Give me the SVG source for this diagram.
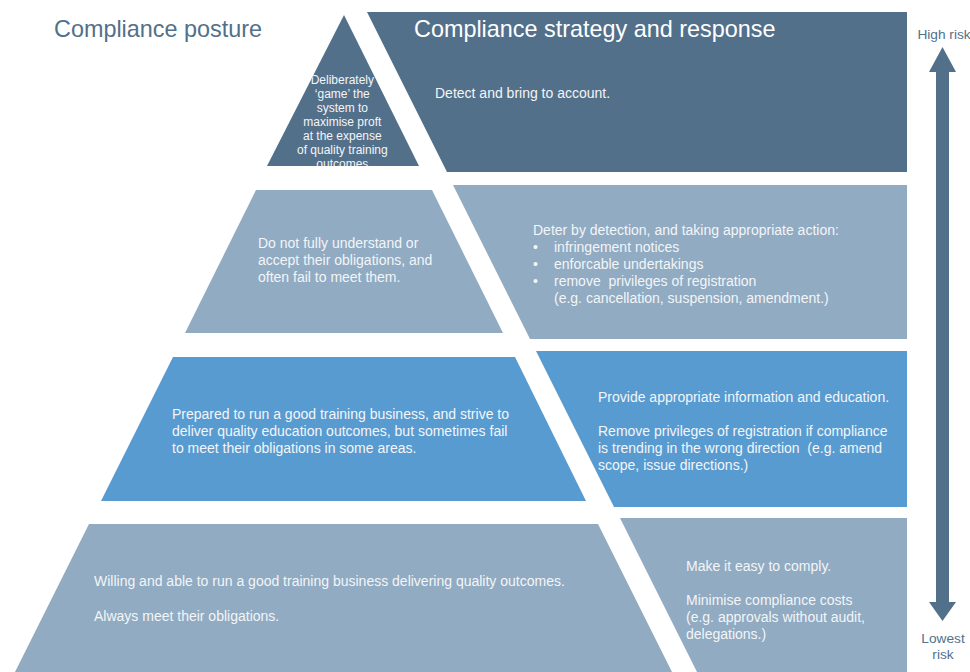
<svg xmlns="http://www.w3.org/2000/svg" width="970" height="672" viewBox="0 0 970 672">
  <style>
    .dark { fill: #52708a; }
    .light { fill: #90abc2; }
    .blue { fill: #589bd1; }
    .body { font-family: "Liberation Sans", Arial, sans-serif; font-size: 14px; fill: #f3f5f8; }
    .small { font-family: "Liberation Sans", Arial, sans-serif; font-size: 12px; fill: #f3f5f8; }
    .title { font-family: "Liberation Sans", Arial, sans-serif; font-size: 23.4px; }
    .risk { font-family: "Liberation Sans", Arial, sans-serif; font-size: 13.7px; fill: #52708a; }
  </style>
  <defs>
    <clipPath id="apexClip">
      <polygon points="344,15 419,166 267,166"/>
    </clipPath>
  </defs>
  <rect width="970" height="672" fill="#ffffff"/>

  <!-- Column headings -->
  <text class="title" x="54" y="37" fill="#52708a">Compliance posture</text>

  <!-- Tier 1: highest risk -->
  <g id="posture-1">
    <polygon class="dark" points="344,15 419,166 267,166"/>
    <g clip-path="url(#apexClip)">
      <text class="small" text-anchor="middle">
        <tspan x="344" y="84">Deliberately</tspan>
        <tspan x="344" y="98">‘game’ the</tspan>
        <tspan x="344" y="112">system to</tspan>
        <tspan x="344" y="126">maximise proft</tspan>
        <tspan x="344" y="140">at the expense</tspan>
        <tspan x="344" y="154">of quality training</tspan>
        <tspan x="344" y="168">outcomes.</tspan>
      </text>
    </g>
  </g>
  <g id="response-1">
    <polygon class="dark" points="367,12 907,12 907,172 447,172"/>
    <text class="title" x="414" y="37" fill="#ffffff">Compliance strategy and response</text>
    <text class="body" x="435" y="98">Detect and bring to account.</text>
  </g>

  <!-- Tier 2 -->
  <g id="posture-2">
    <polygon class="light" points="256,190 432,190 503,333 185,333"/>
    <text class="body">
      <tspan x="258" y="248">Do not fully understand or</tspan>
      <tspan x="258" y="265">accept their obligations, and</tspan>
      <tspan x="258" y="282">often fail to meet them.</tspan>
    </text>
  </g>
  <g id="response-2">
    <polygon class="light" points="453,185 907,185 907,339 530,339"/>
    <text class="body">
      <tspan x="533" y="235">Deter by detection, and taking appropriate action:</tspan>
      <tspan x="533" y="252">•</tspan><tspan x="554" y="252">infringement notices</tspan>
      <tspan x="533" y="269">•</tspan><tspan x="554" y="269">enforcable undertakings</tspan>
      <tspan x="533" y="286">•</tspan>
      <tspan x="554" y="303">(e.g. cancellation, suspension, amendment.)</tspan>
    </text>
    <text class="body" x="554" y="286" xml:space="preserve">remove  privileges of registration</text>
  </g>

  <!-- Tier 3 -->
  <g id="posture-3">
    <polygon class="blue" points="173,357 515,357 586,501 101,501"/>
    <text class="body">
      <tspan x="172" y="419">Prepared to run a good training business, and strive to</tspan>
      <tspan x="172" y="436">deliver quality education outcomes, but sometimes fail</tspan>
      <tspan x="172" y="453">to meet their obligations in some areas.</tspan>
    </text>
  </g>
  <g id="response-3">
    <polygon class="blue" points="536,351 907,351 907,507 614,507"/>
    <text class="body">
      <tspan x="598" y="402">Provide appropriate information and education.</tspan>
      <tspan x="598" y="436">Remove privileges of registration if compliance</tspan>
      <tspan x="598" y="470">scope, issue directions.)</tspan>
    </text>
    <text class="body" x="598" y="453" xml:space="preserve">is trending in the wrong direction  (e.g. amend</text>
  </g>

  <!-- Tier 4: lowest risk -->
  <g id="posture-4">
    <polygon class="light" points="89,524 598,524 673,674 14,674"/>
    <text class="body">
      <tspan x="94" y="586">Willing and able to run a good training business delivering quality outcomes.</tspan>
      <tspan x="94" y="621">Always meet their obligations.</tspan>
    </text>
  </g>
  <g id="response-4">
    <polygon class="light" points="620,518 907,518 907,674 698,674"/>
    <text class="body">
      <tspan x="686" y="571">Make it easy to comply.</tspan>
      <tspan x="686" y="605">Minimise compliance costs</tspan>
      <tspan x="686" y="622">(e.g. approvals without audit,</tspan>
      <tspan x="686" y="639">delegations.)</tspan>
    </text>
  </g>

  <!-- Risk scale -->
  <g id="connectors">
    <polygon class="dark" points="942.5,47 956,72 949,72 949,602 956,602 942.5,621 929,602 936,602 936,72 929,72"/>
  </g>
  <g id="risk-labels">
    <text class="risk" x="944" y="39" text-anchor="middle">High risk</text>
    <text class="risk" x="943" y="643" text-anchor="middle">Lowest</text>
    <text class="risk" x="943" y="659" text-anchor="middle">risk</text>
  </g>
</svg>
